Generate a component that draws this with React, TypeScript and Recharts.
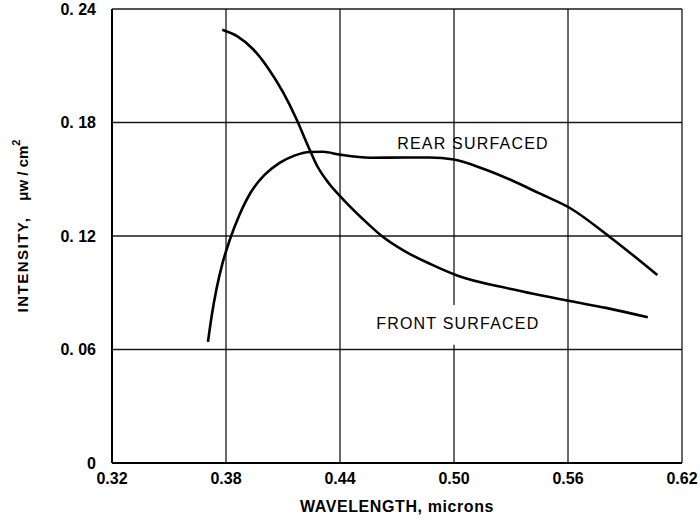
import {
  LineChart,
  Line,
  XAxis,
  YAxis,
  CartesianGrid,
  ReferenceArea,
  ReferenceDot,
} from 'recharts';

const xTicks = [0.32, 0.38, 0.44, 0.5, 0.56, 0.62];
const yTicks = [0, 0.06, 0.12, 0.18, 0.24];

// front surfaced curve
const frontX = [0.378, 0.386, 0.394, 0.402, 0.41, 0.417, 0.423, 0.428, 0.434, 0.442, 0.452, 0.462, 0.474, 0.488, 0.502, 0.53, 0.561, 0.58, 0.602];
const frontY = [0.229, 0.2255, 0.219, 0.209, 0.196, 0.182, 0.168, 0.157, 0.148, 0.139, 0.129, 0.12, 0.112, 0.105, 0.099, 0.092, 0.0856, 0.082, 0.077];

// rear surfaced curve
const rearX = [0.3705, 0.3725, 0.375, 0.378, 0.382, 0.387, 0.393, 0.4, 0.408, 0.416, 0.424, 0.431, 0.44, 0.456, 0.474, 0.487, 0.5, 0.515, 0.53, 0.545, 0.561, 0.582, 0.607];
const rearY = [0.064, 0.078, 0.092, 0.105, 0.118, 0.131, 0.143, 0.152, 0.1585, 0.1625, 0.1644, 0.1645, 0.163, 0.1614, 0.1615, 0.1615, 0.1604, 0.1557, 0.1496, 0.1425, 0.1348, 0.1195, 0.0994];

const front = frontX.map((x, i) => ({ x, y: frontY[i] }));
const rear = rearX.map((x, i) => ({ x, y: rearY[i] }));

const font = '"Liberation Sans", Arial, sans-serif';

const fmtX = (v: number) => v.toFixed(2);
const fmtY = (v: number) => (v === 0 ? '0' : v.toFixed(2).replace('.', '. '));

const YLabel = ({ viewBox }: any) => {
  const cx = viewBox.x - 4;
  const cy = viewBox.y + viewBox.height / 2 - 10;
  return (
    <text
      x={cx}
      y={cy}
      transform={`rotate(-90, ${cx}, ${cy})`}
      textAnchor="middle"
      fontFamily={font}
      fill="#000"
    >
      <tspan fontSize={15} fontWeight={700} letterSpacing={1.5}>INTENSITY,</tspan>
      <tspan fontSize={15} fontWeight={700} dx={16}>μw / cm</tspan>
      <tspan fontSize={11} fontWeight={700} dy={-8}>2</tspan>
    </text>
  );
};

const XLabel = ({ viewBox }: any) => {
  const cx = viewBox.x + viewBox.width / 2;
  const cy = viewBox.y + viewBox.height + 9;
  return (
    <text x={cx} y={cy} textAnchor="middle" fontFamily={font} fontWeight={700} fontSize={16} letterSpacing={0.6} fill="#000">
      WAVELENGTH, microns
    </text>
  );
};

export default function App() {
  return (
    <div style={{ position: 'absolute', left: 0, top: 0, background: '#fff' }}>
      <LineChart
        width={700}
        height={524}
        margin={{ top: 9, right: 18, left: 32, bottom: 21 }}
      >
        <CartesianGrid stroke="#000" strokeWidth={1.3} strokeOpacity={0.9} />
        <XAxis
          type="number"
          dataKey="x"
          domain={[0.32, 0.62]}
          ticks={xTicks}
          tickFormatter={fmtX}
          tickLine={false}
          axisLine={{ stroke: '#000', strokeWidth: 2 }}
          tick={{ fill: '#000', fontSize: 16, fontWeight: 700, fontFamily: font }}
          tickMargin={4}
          height={40}
          allowDataOverflow
          label={<XLabel />}
        />
        <YAxis
          type="number"
          dataKey="y"
          domain={[0, 0.24]}
          ticks={yTicks}
          tickFormatter={fmtY}
          tickLine={false}
          axisLine={{ stroke: '#000', strokeWidth: 2 }}
          tick={{ fill: '#000', fontSize: 16, fontWeight: 700, fontFamily: font }}
          tickMargin={10}
          width={80}
          label={<YLabel />}
        />
        <ReferenceArea
          x1={0.497}
          x2={0.503}
          y1={0.0625}
          y2={0.0835}
          fill="#fff"
          fillOpacity={1}
          stroke="none"
        />
        <Line
          data={front}
          dataKey="y"
          type="monotone"
          stroke="#000"
          strokeWidth={2.6}
          dot={false}
          isAnimationActive={false}
        />
        <Line
          data={rear}
          dataKey="y"
          type="monotone"
          stroke="#000"
          strokeWidth={2.6}
          dot={false}
          isAnimationActive={false}
        />
        <ReferenceDot
          x={0.51}
          y={0.169}
          r={0}
          fill="none"
          stroke="none"
          label={{ value: 'REAR SURFACED', position: 'center', fill: '#000', fontSize: 16, fontFamily: font, letterSpacing: 1.2 }}
        />
        <ReferenceDot
          x={0.502}
          y={0.074}
          r={0}
          fill="none"
          stroke="none"
          label={{ value: 'FRONT SURFACED', position: 'center', fill: '#000', fontSize: 16, fontFamily: font, letterSpacing: 1.2 }}
        />
      </LineChart>
    </div>
  );
}
